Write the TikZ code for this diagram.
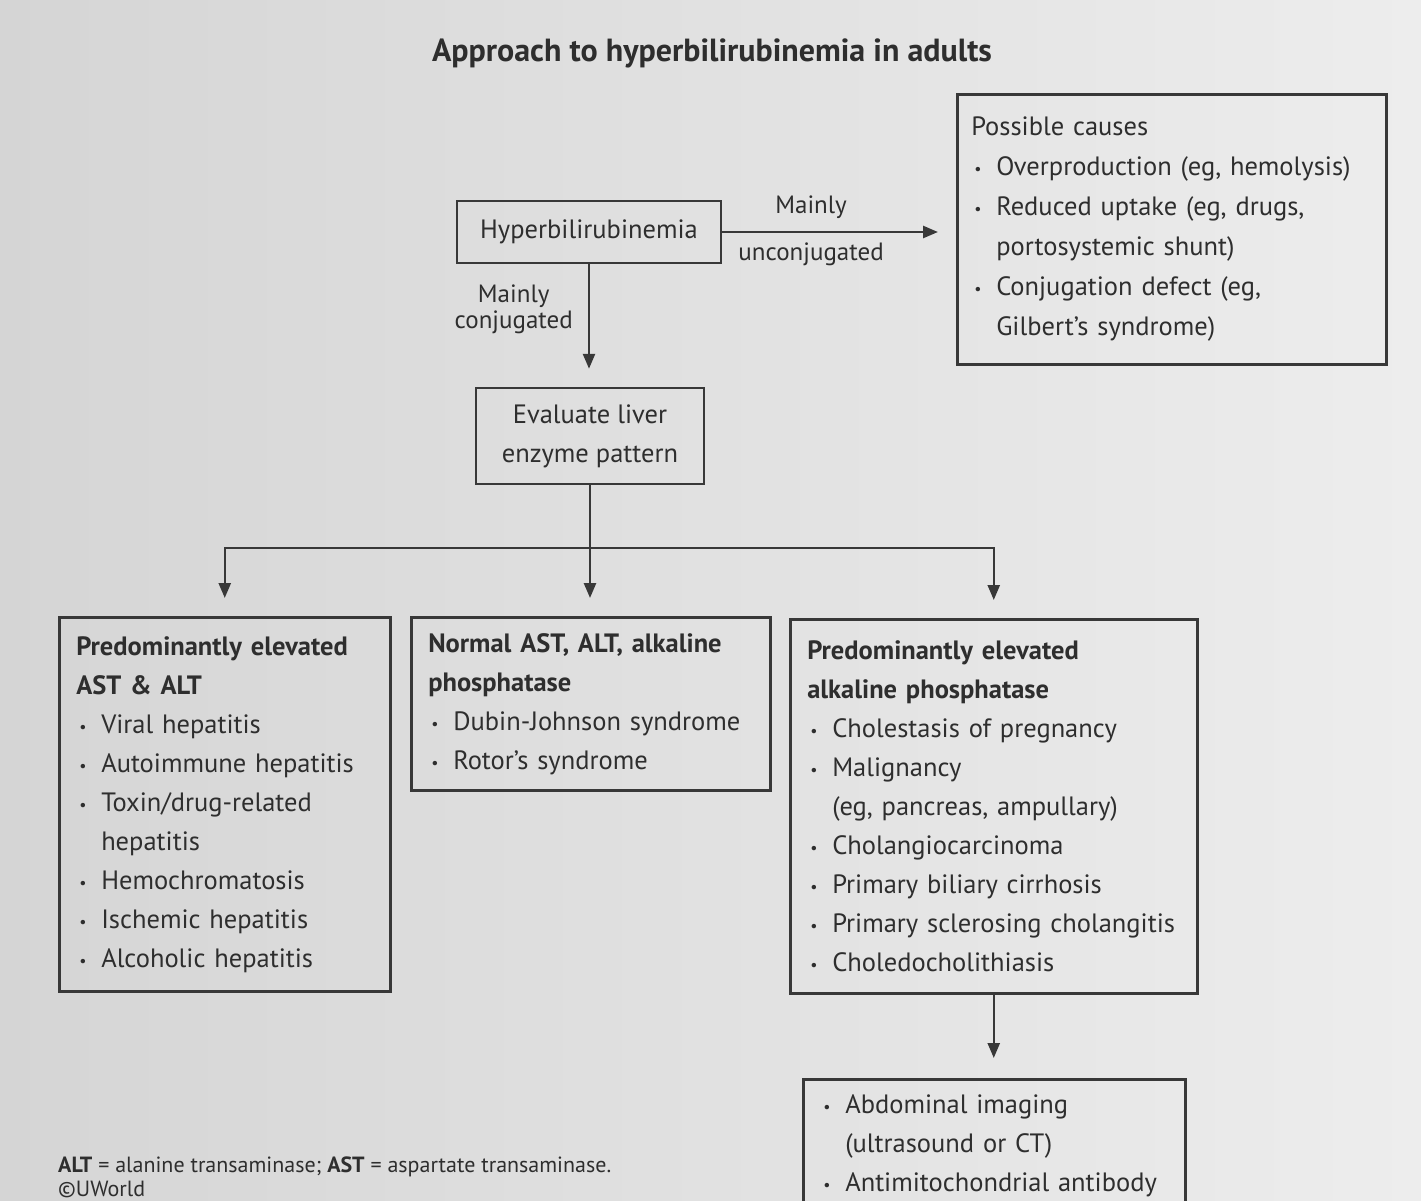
\documentclass[tikz,border=0pt]{standalone}
\usepackage{fontspec}
\setmainfont{PT Sans}
\usepackage{graphicx}
\usepackage{tikz}
\usetikzlibrary{arrows.meta}
\definecolor{encre}{HTML}{2E2E2E}
\definecolor{trait}{HTML}{383838}
\definecolor{fondsombre}{HTML}{D5D5D5}
\definecolor{fondclair}{HTML}{EDEDED}
\newcommand{\corps}{\fontsize{26.5}{39}\selectfont}
\newcommand{\petit}{\fontsize{25}{26}\selectfont}
\newcommand{\notes}{\fontsize{22}{25}\selectfont}
\newcommand{\puce}{\makebox[25pt][l]{\hspace{3pt}\raisebox{1pt}{\scalebox{0.6}{\textbullet}}}}
\newcommand{\suite}{\hspace*{25pt}}
\tikzset{
  boite/.style={rectangle, draw=trait, line width=2.5pt, text=encre,
    font=\corps, align=left, anchor=north west, inner xsep=17pt,
    inner ysep=17pt},
  cadre/.style={rectangle, draw=trait, line width=2.5pt, text=encre,
    font=\corps, align=center, inner sep=0pt},
  fleche/.style={-{Triangle[length=15pt, width=12pt]}, line width=2.5pt,
    draw=trait},
  lien/.style={line width=2.5pt, draw=trait},
  etiquette/.style={font=\petit, text=encre, align=center, inner sep=0pt},
  note/.style={font=\notes, text=encre, anchor=west, inner sep=0pt}
}
\begin{document}
\begin{tikzpicture}[x=1pt, y=-1pt]
    \clip (0,0) rectangle (1421,1200);
    \shade[left color=fondsombre, right color=fondclair] (0,0) rectangle (1421,1200);

    \node[text=encre, font=\fontsize{32}{38}\selectfont\bfseries] (titre) at (712,53)
      {Approach to hyperbilirubinemia in adults};

    \node[cadre, minimum width=264pt, minimum height=62pt] (hyper) at (589,232)
      {Hyperbilirubinemia};
    \node[boite, text width=401pt, inner xsep=14pt, inner ysep=21pt,
      minimum height=270pt, font=\fontsize{26.5}{40}\selectfont] (causes) at (956,93)
      {Possible causes\\
       \puce Overproduction (eg, hemolysis)\\
       \puce Reduced uptake (eg, drugs,\\
       \suite portosystemic shunt)\\
       \puce Conjugation defect (eg,\\
       \suite Gilbert’s syndrome)};
    \node[cadre, minimum width=228pt, minimum height=96pt] (evaluer) at (590,436)
      {Evaluate liver\\ enzyme pattern};

    \node[boite, text width=297pt, minimum height=374pt] (hepato) at (58,616)
      {\textbf{Predominantly elevated}\\
       \textbf{AST \& ALT}\\
       \puce Viral hepatitis\\
       \puce Autoimmune hepatitis\\
       \puce Toxin/drug-related\\
       \suite hepatitis\\
       \puce Hemochromatosis\\
       \puce Ischemic hepatitis\\
       \puce Alcoholic hepatitis};
    \node[boite, text width=325pt, inner ysep=16pt] (normal) at (410,616)
      {\textbf{Normal AST, ALT, alkaline}\\
       \textbf{phosphatase}\\
       \puce Dubin-Johnson syndrome\\
       \puce Rotor’s syndrome};
    \node[boite, text width=373pt, inner ysep=18pt, minimum height=374pt] (cholest) at (789,618)
      {\textbf{Predominantly elevated}\\
       \textbf{alkaline phosphatase}\\
       \puce Cholestasis of pregnancy\\
       \puce Malignancy\\
       \suite (eg, pancreas, ampullary)\\
       \puce Cholangiocarcinoma\\
       \puce Primary biliary cirrhosis\\
       \puce Primary sclerosing cholangitis\\
       \puce Choledocholithiasis};
    \node[boite, text width=348pt, inner ysep=15pt] (examens) at (802,1078)
      {\puce Abdominal imaging\\
       \suite (ultrasound or CT)\\
       \puce Antimitochondrial antibody\\
       \mbox{}};

    \node[note] (legende) at (58,1167)
      {\textbf{ALT} = alanine transaminase; \textbf{AST} = aspartate transaminase.};
    \node[note] (credit) at (58,1189) {©UWorld};

    \coordinate (branche) at (590,548);

    \draw[fleche, shorten >=18pt] (hyper.east) -- (hyper -| causes.west)
      node[etiquette, above=12pt, pos=0.38] {Mainly}
      node[etiquette, below=10pt, pos=0.38] {unconjugated};
    \draw[fleche, shorten >=18pt] (hyper.south) -- (hyper.south |- evaluer.north)
      node[etiquette, left=15pt, pos=0.37] {Mainly\\ conjugated};
    \draw[lien] (evaluer.south) -- (branche);
    \draw[fleche, shorten >=18pt] (branche) -| (hepato.north);
    \draw[fleche, shorten >=18pt] (branche) -| (cholest.north);
    \draw[fleche, shorten >=18pt] (branche) -- (branche |- normal.north);
    \draw[fleche, shorten >=20pt] (cholest.south) -- (cholest.south |- examens.north);
\end{tikzpicture}
\end{document}
